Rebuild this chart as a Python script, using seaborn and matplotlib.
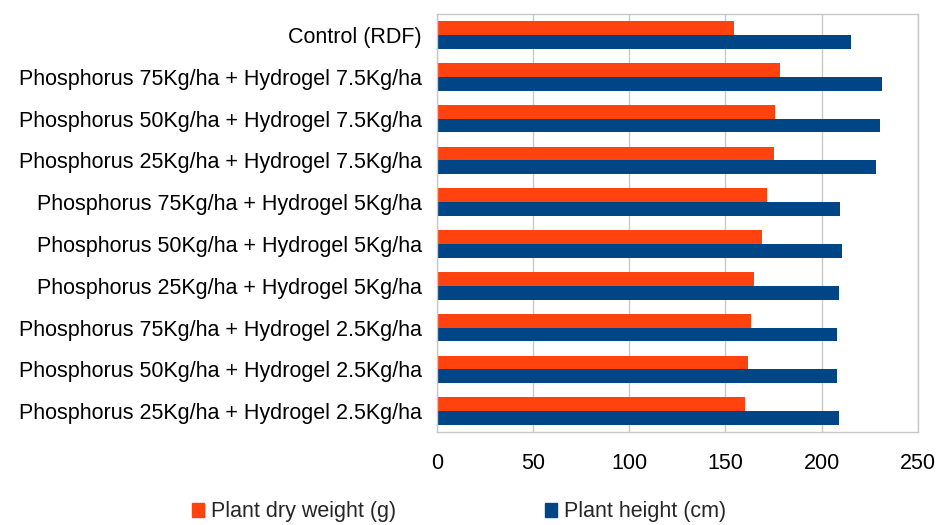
import pandas as pd
import matplotlib.pyplot as plt
import seaborn as sns

# ---- Data ----
treatments = [
    "Control (RDF)",
    "Phosphorus 75Kg/ha + Hydrogel 7.5Kg/ha",
    "Phosphorus 50Kg/ha + Hydrogel 7.5Kg/ha",
    "Phosphorus 25Kg/ha + Hydrogel 7.5Kg/ha",
    "Phosphorus 75Kg/ha + Hydrogel 5Kg/ha",
    "Phosphorus 50Kg/ha + Hydrogel 5Kg/ha",
    "Phosphorus 25Kg/ha + Hydrogel 5Kg/ha",
    "Phosphorus 75Kg/ha + Hydrogel 2.5Kg/ha",
    "Phosphorus 50Kg/ha + Hydrogel 2.5Kg/ha",
    "Phosphorus 25Kg/ha + Hydrogel 2.5Kg/ha",
]
dry_weight = [154.3, 178.3, 175.9, 175.5, 171.4, 168.8, 164.7, 163.5, 161.7, 160.2]
plant_height = [215.2, 231.7, 230.5, 228.1, 209.5, 210.7, 209.2, 208.1, 207.8, 209.2]
series_names = ["Plant dry weight (g)", "Plant height (cm)"]
colors = ["#ff420e", "#004586"]

df = pd.DataFrame({
    "Treatment": treatments * 2,
    "Value": dry_weight + plant_height,
    "Series": [series_names[0]] * len(treatments) + [series_names[1]] * len(treatments),
})

# ---- Style ----
sns.set_style("white")
plt.rcParams["font.family"] = ["Liberation Sans", "DejaVu Sans"]

fig = plt.figure(figsize=(9.46, 5.25), dpi=100)
ax = fig.add_axes([0.462, 0.177, 0.508, 0.796])

sns.barplot(data=df, y="Treatment", x="Value", hue="Series", orient="h",
            palette=colors, width=0.66, ax=ax, legend=False, saturation=1,
            linewidth=0)

ax.set_xlim(0, 250)
ax.set_xticks([0, 50, 100, 150, 200, 250])
ax.set_xlabel("")
ax.set_ylabel("")
ax.tick_params(axis="both", labelsize=15.5, length=0, colors="black")
ax.tick_params(axis="x", pad=15)
ax.tick_params(axis="y", pad=11)
ax.grid(axis="x", color="#c8c8c8", linewidth=1)
ax.set_axisbelow(True)
for s in ax.spines.values():
    s.set_color("#c8c8c8")
    s.set_linewidth(1)

handles = [plt.Rectangle((0, 0), 1, 1, color=c) for c in colors]
fig.legend(handles, series_names, loc="lower center", bbox_to_anchor=(0.485, -0.032),
           ncol=2, frameon=False, fontsize=15.5, handlelength=0.6, handleheight=0.6,
           handletextpad=0.3, columnspacing=6.9)

fig.savefig("out.png", dpi=100)
